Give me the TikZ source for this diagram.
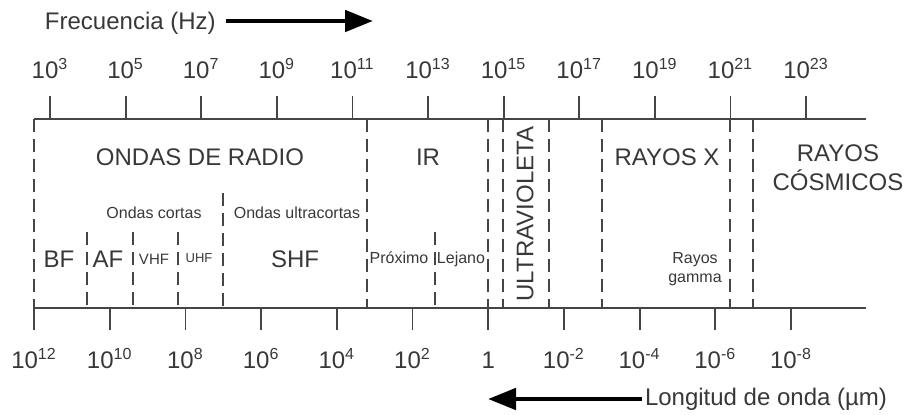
\documentclass[tikz,border=0pt]{standalone}
\usepackage{fontspec}
\setmainfont{Liberation Sans}
\usetikzlibrary{arrows.meta,positioning}

\definecolor{trazo}{gray}{0.27}
\definecolor{letra}{gray}{0.22}
\newcommand{\pot}[1]{10\textsuperscript{#1}}

\tikzset{
    eje/.style={draw=trazo, line width=1pt},
    marca/.style={draw=trazo, line width=0.9pt},
    limite/.style={
        draw=trazo,
        line width=0.9pt,
        dash pattern=on 6.5pt off 3.5pt
    },
    flecha/.style={draw=black, line width=2.4pt, -{Triangle[length=14pt,width=10.5pt]}},
    banda/.style={
        text=letra,
        font=\fontsize{12}{14.5}\selectfont,
        inner sep=0pt,
        align=center
    },
    subbanda/.style={
        text=letra,
        font=\fontsize{8}{9.5}\selectfont,
        inner sep=0pt,
        align=center
    },
    cifra/.style={
        text=letra,
        font=\fontsize{12}{14}\selectfont,
        inner sep=0pt,
        anchor=base
    }
}

\begin{document}
\begin{tikzpicture}[x=0.5pt, y=-0.5pt]
    \useasboundingbox (0,0) rectangle (907,414);

    % ejes de frecuencia (arriba) y longitud de onda (abajo)
    \coordinate (fsup-a) at (34,119);
    \coordinate (fsup-b) at (866,119);
    \coordinate (linf-a) at (34,308);
    \coordinate (linf-b) at (866,308);
    \draw[eje] (fsup-a) -- (fsup-b);
    \draw[eje] (linf-a) -- (linf-b);

    \foreach \e [count=\i from 0] in {3,5,...,23} {
        \draw[marca] ({50+75.6*\i},96) -- ({50+75.6*\i},119);
        \node[cifra] (f\i) at ({50+75.6*\i},78.5) {\pot{\e}};
    }
    \foreach \t [count=\i from 0] in {\pot{12},\pot{10},\pot{8},\pot{6},\pot{4},\pot{2},1,\pot{-2},\pot{-4},\pot{-6},\pot{-8}} {
        \draw[marca] ({34+75.7*\i},308) -- ({34+75.7*\i},330);
        \node[cifra] (l\i) at ({34+75.7*\i},368) {\t};
    }

    % limites de las bandas
    \foreach \x in {34,367,488,503,549,602,730,753}
        \draw[limite] (\x,119) -- (\x,308);
    \foreach \x in {87,133,178,435}
        \draw[limite] (\x,232) -- (\x,308);
    \draw[limite] (223,193) -- (223,308);

    % bandas
    \node[banda, anchor=base] (radio) at (200,165) {ONDAS DE RADIO};
    \node[banda, anchor=base] (ir) at (428,165) {IR};
    \node[banda, rotate=90] (uv) at (525,214) {ULTRAVIOLETA};
    \node[banda, anchor=base] (rx) at (667,165) {RAYOS X};
    \node[banda] (cosm) at (838,167.5) {RAYOS\\CÓSMICOS};

    \node[subbanda, anchor=base] (cortas) at (154,218) {Ondas cortas};
    \node[subbanda, anchor=base] (ucortas) at (297,218) {Ondas ultracortas};
    \node[banda, anchor=base] (bf) at (59,267) {BF};
    \node[banda, anchor=base] (af) at (108,267) {AF};
    \node[subbanda, anchor=base, font=\fontsize{7.5}{9}\selectfont] (vhf) at (154,264) {VHF};
    \node[subbanda, anchor=base, font=\fontsize{6.5}{8}\selectfont] (uhf) at (199,262) {UHF};
    \node[banda, anchor=base] (shf) at (295,267) {SHF};
    \node[subbanda, anchor=base] (prox) at (399,263) {Próximo};
    \node[subbanda, anchor=base] (lej) at (461,263) {Lejano};
    \node[subbanda] (gamma) at (695,269.5) {Rayos\\gamma};

    % sentido de cada escala
    \node[banda, anchor=base west, outer xsep=5pt] (frec) at (35,29) {Frecuencia (Hz)};
    \coordinate (frecfin) at (373,21);
    \draw[flecha] (frec.east |- frecfin) -- (frecfin);

    \node[banda, anchor=base west, outer xsep=1.5pt] (onda) at (642,405) {Longitud de onda (µm)};
    \coordinate (ondafin) at (488,399);
    \draw[flecha] (onda.west |- ondafin) -- (ondafin);
\end{tikzpicture}
\end{document}
